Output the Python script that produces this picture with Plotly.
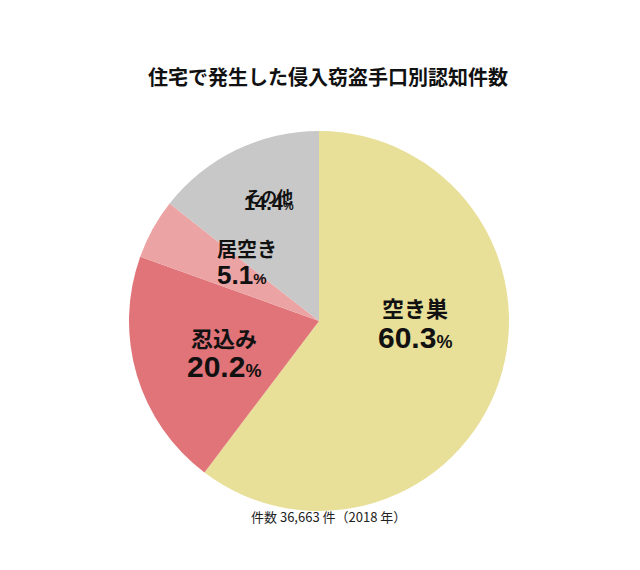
import math
import plotly.graph_objects as go

labels = ["空き巣", "忍込み", "居空き", "その他"]
values = [60.3, 20.2, 5.1, 14.4]
colors = ["#E8DF98", "#E07478", "#EBA3A3", "#C8C8C8"]
name_sizes = [22, 22, 20, 16]
num_sizes = [30, 30, 26, 20]
label_frac = [0.47, 0.55, 0.68, 0.77]
angle_nudge = [-23, 4, 2, 3]

W, H = 640, 570
cx, cy, R = 318, 318, 190

fig = go.Figure(go.Pie(
    labels=labels, values=values, textinfo="none",
    sort=False, direction="clockwise", rotation=0,
    marker=dict(colors=colors, line=dict(width=0)),
    domain=dict(x=[(cx - R - 7) / W, (cx + R - 7) / W], y=[1 - (cy + R - 5) / H, 1 - (cy - R - 5) / H]),
    showlegend=False, hoverinfo="skip",
))

anns = [
    dict(text="<b>住宅で発生した侵入窃盗手口別認知件数</b>", x=0.5, y=1 - 52 / H, xref="paper", yref="paper",
         showarrow=False, font=dict(size=20, family="Noto Sans CJK JP", color="#111")),
    dict(text="件数 36,663 件（2018 年）", x=0.5, y=1 - 520 / H, xref="paper", yref="paper",
         showarrow=False, font=dict(size=13, family="Noto Sans CJK JP", color="#222")),
]
total = sum(values)
cum = 0
for l, v, ns, vs, f, nd in zip(labels, values, name_sizes, num_sizes, label_frac, angle_nudge):
    a = math.radians((cum + v / 2) / total * 360 + nd)
    cum += v
    px = cx + R * f * math.sin(a)
    py = cy - R * f * math.cos(a)
    anns.append(dict(x=px / W, y=1 - (py - ns * 0.55) / H, xref="paper", yref="paper", showarrow=False,
                     text=f"<b>{l}</b>", font=dict(size=ns, family="Noto Sans CJK JP", color="#111")))
    anns.append(dict(x=px / W, y=1 - (py + vs * 0.6) / H, xref="paper", yref="paper", showarrow=False,
                     text=f"<b>{v}</b><span style='font-size:{int(vs * 0.6)}px'><b>%</b></span>",
                     font=dict(size=vs, family="Liberation Sans", color="#111")))

fig.update_layout(width=W, height=H, margin=dict(l=0, r=0, t=0, b=0),
                  paper_bgcolor="white", plot_bgcolor="white", annotations=anns)
fig.write_html("out.html")
